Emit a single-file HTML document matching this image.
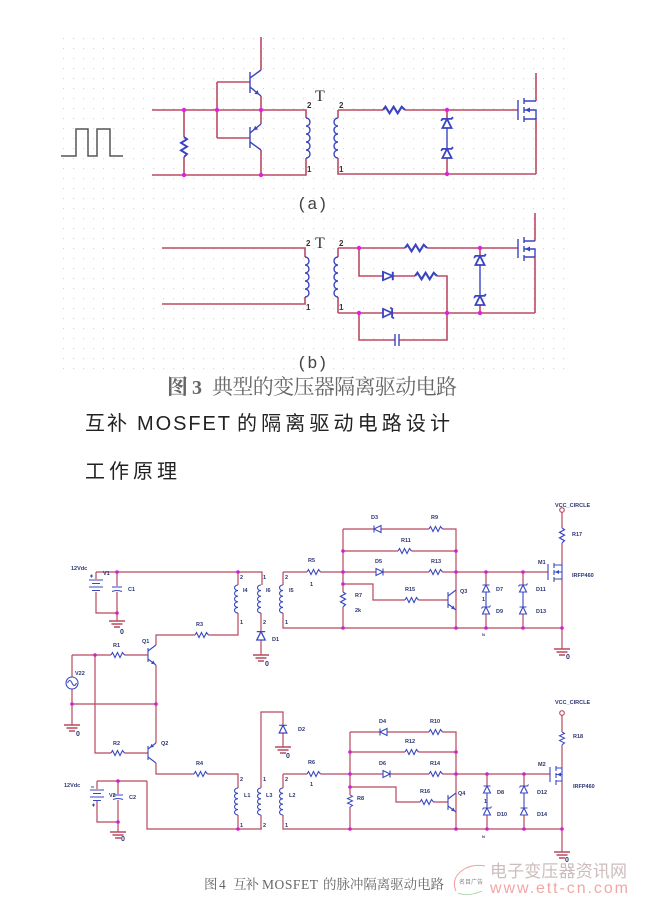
<!DOCTYPE html>
<html><head><meta charset="utf-8"><style>
html,body{margin:0;padding:0;background:#fff;}
svg{display:block}
.w{stroke:#bb4a64;fill:none;stroke-width:1.6}
.b{stroke:#3a44c0;fill:none;stroke-width:1.4}
.w2{stroke:#b8485e;fill:none;stroke-width:1.2}
.b2{stroke:#3a48c0;fill:none;stroke-width:1.1}
.gd{stroke:#b8485e;fill:none;stroke-width:1.5}
.lb{font-family:"Liberation Sans",sans-serif;font-size:5.5px;font-weight:bold;fill:#2a3570}
.pn{font-family:"Liberation Sans",sans-serif;font-size:8px;font-weight:bold;fill:#333}
.jd{fill:#e020e0}
.jd2{fill:#d020d0}
</style></head><body>
<svg width="648" height="916" viewBox="0 0 648 916" xmlns="http://www.w3.org/2000/svg">
<defs>
<pattern id="g" width="10" height="10" patternUnits="userSpaceOnUse" x="63" y="38"><rect x="0" y="0" width="1.2" height="1.2" fill="#d8d8d8"/></pattern>
<path id="rz" d="M0 0 l1.5 -2.5 l2.5 5 l2.5 -5 l2.5 5 l2.5 -5 l2 2.5"/>
<path id="dd" d="M0 -3.5 V3.5 L7 0 Z M7 -3.5 V3.5"/>
<path id="zz" d="M0 -3.5 V3.5 L7 0 Z M5.5 -4.5 L7 -3.5 V3.5 L8.5 4.5"/>
<path id="gnd" d="M-8 0 H8 M-5.5 3 H5.5 M-3 6 H3"/>
</defs>

<rect x="60" y="35" width="512" height="335" fill="url(#g)"/>

<!-- ============ Fig 3 (a) ============ -->
<polyline points="61,156 76,156 76,129 88,129 88,156 97,156 97,129 110,129 110,156 123,156" fill="none" stroke="#555" stroke-width="1.5"/>
<path class="w" d="M152 110 H306 V118 M306 158 V175 H152 M184 110 V137 M184 157 V175 M217 82 V138 M217 82 H250 M217 138 H250 M261 70 V37 M261 96 V124 M261 150 V175"/>
<use href="#rz" class="b" transform="translate(184,137) rotate(90) scale(1.48,1.2)"/>
<path class="b" stroke-width="2.2" d="M250 72 V93 M250 127 V148"/>
<path class="b" d="M250 78 L261 70 M250 87 L261 96 M250 133 L261 124 M250 142 L261 150"/>
<polygon points="259,94.5 254.3,93.9 257.5,90.1" fill="#3a44c0"/>
<polygon points="253.5,130.1 258.2,129.5 255,125.7" fill="#3a44c0"/>
<path class="b" d="M306 118 a4 4 0 0 1 0 8 a4 4 0 0 1 0 8 a4 4 0 0 1 0 8 a4 4 0 0 1 0 8 a4 4 0 0 1 0 8"/>
<path class="b" d="M338 118 a4 4 0 0 0 0 8 a4 4 0 0 0 0 8 a4 4 0 0 0 0 8 a4 4 0 0 0 0 8 a4 4 0 0 0 0 8"/>
<path class="w" d="M338 110 V118 M338 158 V174 H536 M338 110 H383 M405 110 H518 M447 110 V118 M447 158 V174 M536 73 V101 M536 118 V174"/>
<use href="#rz" class="b" transform="translate(383,110) scale(1.63,1.3)"/>
<use href="#zz" class="b" transform="translate(447,128) rotate(-90) scale(1.3)"/>
<path class="b" d="M447 128 V149"/>
<use href="#zz" class="b" transform="translate(447,158) rotate(-90) scale(1.3)"/>
<path class="b" stroke-width="2" d="M518 100 V120 M524 98 V104 M524 107 V113 M524 116 V122"/>
<path class="b" d="M524 101 H536 M524 119 H536 M524 110 H536 V119"/>
<polygon points="525,110 530,107.5 530,112.5" fill="#3a44c0"/>
<circle class="jd" cx="184" cy="110" r="2.2"/><circle class="jd" cx="184" cy="175" r="2.2"/>
<circle class="jd" cx="217" cy="110" r="2.2"/><circle class="jd" cx="261" cy="110" r="2.2"/>
<circle class="jd" cx="261" cy="175" r="2.2"/><circle class="jd" cx="447" cy="110" r="2.2"/>
<circle class="jd" cx="447" cy="174" r="2.2"/>
<text class="pn" x="307" y="108">2</text><text class="pn" x="307" y="172">1</text>
<text class="pn" x="339" y="108">2</text><text class="pn" x="339" y="172">1</text>
<text x="315" y="101" font-family="Liberation Serif,serif" font-size="16" fill="#333">T</text>
<text x="297" y="209" font-family="Liberation Mono,monospace" font-size="17" fill="#444">(a)</text>

<!-- ============ Fig 3 (b) ============ -->
<path class="w" d="M162 248 H305 V257 M305 297 V304 H162 M338 248 V257 M338 297 V313 M338 248 H405 M427 248 H518 M359 248 V276 H383 M393 276 H415 M437 276 H447 V340 H399 M395 340 H359 V313 M338 313 H383 M393 313 H535 M480 248 V255 M480 305 V313 M535 213 V241 M535 257 V313"/>
<path class="b" d="M305 257 a4 4 0 0 1 0 8 a4 4 0 0 1 0 8 a4 4 0 0 1 0 8 a4 4 0 0 1 0 8 a4 4 0 0 1 0 8"/>
<path class="b" d="M338 257 a4 4 0 0 0 0 8 a4 4 0 0 0 0 8 a4 4 0 0 0 0 8 a4 4 0 0 0 0 8 a4 4 0 0 0 0 8"/>
<use href="#rz" class="b" transform="translate(405,248) scale(1.63,1.3)"/>
<use href="#rz" class="b" transform="translate(415,276) scale(1.63,1.3)"/>
<use href="#dd" class="b" transform="translate(383,276) scale(1.4,1.2)"/>
<use href="#zz" class="b" transform="translate(383,313) scale(1.3,1.2)"/>
<path class="b" stroke-width="1.8" d="M395 334 V346 M399 334 V346"/>
<use href="#zz" class="b" transform="translate(480,265) rotate(-90) scale(1.3)"/>
<path class="b" d="M480 265 V296"/>
<use href="#zz" class="b" transform="translate(480,305) rotate(-90) scale(1.3)"/>
<path class="b" stroke-width="2" d="M518 239 V258 M524 237 V243 M524 246 V252 M524 255 V261"/>
<path class="b" d="M524 241 H535 M524 257 H535 M524 249 H535 V257"/>
<polygon points="525,249 530,246.5 530,251.5" fill="#3a44c0"/>
<circle class="jd" cx="359" cy="248" r="2.2"/><circle class="jd" cx="480" cy="248" r="2.2"/>
<circle class="jd" cx="359" cy="313" r="2.2"/><circle class="jd" cx="447" cy="313" r="2.2"/>
<circle class="jd" cx="480" cy="313" r="2.2"/>
<text class="pn" x="306" y="246">2</text><text class="pn" x="306" y="310">1</text>
<text class="pn" x="339" y="246">2</text><text class="pn" x="339" y="310">1</text>
<text x="315" y="248" font-family="Liberation Serif,serif" font-size="16" fill="#333">T</text>
<text x="297" y="368" font-family="Liberation Mono,monospace" font-size="17" fill="#444">(b)</text>

<!-- captions / headings -->
<text x="167" y="394" font-family="Liberation Serif,'Noto Serif CJK SC',serif" font-size="21" fill="#666" font-weight="bold">图</text>
<text x="192" y="394" font-family="Liberation Serif,'Noto Serif CJK SC',serif" font-size="20" fill="#666" font-weight="bold">3</text>
<text x="212" y="394" font-family="'Noto Serif CJK SC',serif" font-size="21" fill="#666" textLength="245" lengthAdjust="spacing">典型的变压器隔离驱动电路</text>

<text x="85" y="430" font-family="'Liberation Sans','Noto Sans CJK SC',sans-serif" font-size="20" fill="#222" textLength="42" lengthAdjust="spacing">互补</text>
<text x="137" y="430" font-family="'Liberation Sans',sans-serif" font-size="20" fill="#222" textLength="93" lengthAdjust="spacing">MOSFET</text>
<text x="237" y="430" font-family="'Liberation Sans','Noto Sans CJK SC',sans-serif" font-size="20" fill="#222" textLength="213" lengthAdjust="spacing">的隔离驱动电路设计</text>
<text x="85" y="478" font-family="'Liberation Sans','Noto Sans CJK SC',sans-serif" font-size="20" fill="#222" textLength="92" lengthAdjust="spacing">工作原理</text>

<!-- ============ Fig 4 top ============ -->
<path class="w2" d="M96 572 H262 V585 M96 572 V579 M96 592 V613 H117 M117 572 V586 M117 592 V621 M238 572 V585 M238 613 V635 H208.5 M195 635 H156 V645 M261 613 V631 M261 640 V655 M283 572 V585 M283 613 V628 H562 M283 572 H307 M320.5 572 H376 M383 572 H429 M442.5 572 H548 M343 529 V592 M343 607 V628 M343 529 H374 M381 529 H429 M442.5 529 H456 V628 M343 551 H398 M411.5 551 H456 M343 584 H373 V600 H405 M418.5 600 H448 M486 572 V585 M486 614 V628 M523 572 V585 M523 614 V628 M562 512.5 V528 M562 543 V564 M562 580 V649"/>
<path class="b2" stroke-width="1.4" d="M89 580 H103 M92 583.5 H100 M89 587 H103 M92 590.5 H100"/>
<path class="b2" d="M90 576 H93 M91.5 574.5 V577.5"/>
<path class="b2" stroke-width="1.4" d="M112 587 H122 M112 591.5 Q117 589.5 122 591.5"/>
<path class="b2" d="M238 585 a3.5 2.8 0 0 0 0 5.6 a3.5 2.8 0 0 0 0 5.6 a3.5 2.8 0 0 0 0 5.6 a3.5 2.8 0 0 0 0 5.6 a3.5 2.8 0 0 0 0 5.6"/>
<path class="b2" d="M261 585 a3.5 2.8 0 0 0 0 5.6 a3.5 2.8 0 0 0 0 5.6 a3.5 2.8 0 0 0 0 5.6 a3.5 2.8 0 0 0 0 5.6 a3.5 2.8 0 0 0 0 5.6"/>
<path class="b2" d="M283 585 a3.5 2.8 0 0 0 0 5.6 a3.5 2.8 0 0 0 0 5.6 a3.5 2.8 0 0 0 0 5.6 a3.5 2.8 0 0 0 0 5.6 a3.5 2.8 0 0 0 0 5.6"/>
<use href="#dd" class="b2" transform="translate(261,640) rotate(-90) scale(1.2)"/>
<use href="#gnd" class="gd" transform="translate(117,621)"/>
<use href="#gnd" class="gd" transform="translate(261,655)"/>
<use href="#gnd" class="gd" transform="translate(562,649)"/>
<use href="#rz" class="b2" transform="translate(195,635)"/>
<use href="#rz" class="b2" transform="translate(307,572)"/>
<use href="#rz" class="b2" transform="translate(429,529)"/>
<use href="#rz" class="b2" transform="translate(398,551)"/>
<use href="#rz" class="b2" transform="translate(429,572)"/>
<use href="#rz" class="b2" transform="translate(405,600)"/>
<use href="#rz" class="b2" transform="translate(343,592) rotate(90) scale(1.1,1)"/>
<use href="#rz" class="b2" transform="translate(562,528) rotate(90) scale(1.1,1)"/>
<use href="#dd" class="b2" transform="translate(381,529) scale(-1,1)"/>
<use href="#dd" class="b2" transform="translate(376,572)"/>
<use href="#dd" class="b2" transform="translate(486,592) rotate(-90)"/>
<path class="b2" d="M486 592 V607 M523 592 V607"/>
<use href="#zz" class="b2" transform="translate(486,614) rotate(-90)"/>
<use href="#zz" class="b2" transform="translate(523,592) rotate(-90)"/>
<use href="#dd" class="b2" transform="translate(523,614) rotate(-90)"/>
<!-- Q3 -->
<path class="b2" stroke-width="1.8" d="M448 592 V608"/>
<path class="b2" d="M448 596 L456 590 M448 604 L456 610"/>
<polygon points="455,609.2 451,608.7 453.4,605.5" fill="#3a48c0"/>
<!-- M1 -->
<path class="b2" stroke-width="1.6" d="M548 564 V580 M554 563 V568 M554 570 V575 M554 577 V582"/>
<path class="b2" d="M554 565 H562 M554 579 H562 M554 572 H562 V579 M562 564 V580"/>
<polygon points="555,572 559,570 559,574" fill="#3a48c0"/>
<circle cx="562" cy="510" r="2.3" fill="none" stroke="#b8485e" stroke-width="1.1"/>
<!-- Q1 -->
<path class="b2" stroke-width="1.8" d="M148 648 V662"/>
<path class="b2" d="M148 651 L156 645 M148 659 L156 665"/>
<polygon points="155,664.2 151,663.7 153.4,660.5" fill="#3a48c0"/>

<!-- ============ Fig 4 middle / bottom ============ -->
<path class="w2" d="M72 655 H111 M124.5 655 H148 M72 655 V677 M72 689 V725 M72 704 H156 M156 665 V743 M95 655 V753 H111 M124.5 753 H148 M156 763 V774 H194 M207.5 774 H238 V788 M238 815 V829 M261 788 V712 H283 V725 M283 733 V747 M261 815 V829 M147 781 V829 H262 M97 781 H147 M97 781 V789 M97 801 V822 H118 M118 781 V794 M118 800 V832 M283 774 V788 M283 815 V829 H562 M283 774 H307 M320.5 774 H383 M390 774 H429 M442.5 774 H550 M350 732 V795 M350 807 V829 M350 732 H380 M387 732 H429 M442.5 732 H456 V829 M350 752 H405 M418.5 752 H456 M350 787 H396 V802 H420 M433.5 802 H448 M487 774 V786 M487 815 V829 M524 774 V786 M524 815 V829 M562 715.5 V732 M562 745 V767 M562 782 V852"/>
<circle cx="72" cy="683" r="6" fill="none" stroke="#3a48c0" stroke-width="1.1"/>
<path class="b2" d="M67.5 683 q2.25 -5 4.5 0 t4.5 0"/>
<use href="#gnd" class="gd" transform="translate(72,725)"/>
<use href="#rz" class="b2" transform="translate(111,655)"/>
<use href="#rz" class="b2" transform="translate(111,753)"/>
<use href="#rz" class="b2" transform="translate(194,774)"/>
<!-- Q2 -->
<path class="b2" stroke-width="1.8" d="M148 746 V760"/>
<path class="b2" d="M148 749 L156 743 M148 757 L156 763"/>
<polygon points="150,747.5 154,747 151.6,743.8" fill="#3a48c0"/>
<use href="#dd" class="b2" transform="translate(283,733) rotate(-90) scale(1.1)"/>
<use href="#gnd" class="gd" transform="translate(283,747)"/>
<path class="b2" stroke-width="1.4" d="M90 790 H104 M93 793.5 H101 M90 797 H104 M93 800.5 H101"/>
<path class="b2" d="M92 805 H95 M93.5 803.5 V806.5 M91 787 H94"/>
<path class="b2" stroke-width="1.4" d="M113 795 H123 M113 799.5 Q118 797.5 123 799.5"/>
<use href="#gnd" class="gd" transform="translate(118,832)"/>
<path class="b2" d="M238 788 a3.5 2.7 0 0 0 0 5.4 a3.5 2.7 0 0 0 0 5.4 a3.5 2.7 0 0 0 0 5.4 a3.5 2.7 0 0 0 0 5.4 a3.5 2.7 0 0 0 0 5.4"/>
<path class="b2" d="M261 788 a3.5 2.7 0 0 0 0 5.4 a3.5 2.7 0 0 0 0 5.4 a3.5 2.7 0 0 0 0 5.4 a3.5 2.7 0 0 0 0 5.4 a3.5 2.7 0 0 0 0 5.4"/>
<path class="b2" d="M283 788 a3.5 2.7 0 0 0 0 5.4 a3.5 2.7 0 0 0 0 5.4 a3.5 2.7 0 0 0 0 5.4 a3.5 2.7 0 0 0 0 5.4 a3.5 2.7 0 0 0 0 5.4"/>
<use href="#rz" class="b2" transform="translate(307,774)"/>
<use href="#rz" class="b2" transform="translate(429,732)"/>
<use href="#rz" class="b2" transform="translate(405,752)"/>
<use href="#rz" class="b2" transform="translate(429,774)"/>
<use href="#rz" class="b2" transform="translate(420,802)"/>
<use href="#rz" class="b2" transform="translate(350,795) rotate(90) scale(0.9,1)"/>
<use href="#rz" class="b2" transform="translate(562,732) rotate(90) scale(0.95,1)"/>
<use href="#dd" class="b2" transform="translate(387,732) scale(-1,1)"/>
<use href="#dd" class="b2" transform="translate(383,774)"/>
<use href="#dd" class="b2" transform="translate(487,793) rotate(-90)"/>
<path class="b2" d="M487 793 V808 M524 793 V808"/>
<use href="#zz" class="b2" transform="translate(487,815) rotate(-90)"/>
<use href="#zz" class="b2" transform="translate(524,793) rotate(-90)"/>
<use href="#dd" class="b2" transform="translate(524,815) rotate(-90)"/>
<!-- Q4 -->
<path class="b2" stroke-width="1.8" d="M448 795 V810"/>
<path class="b2" d="M448 799 L456 793 M448 806 L456 812"/>
<polygon points="455,811.2 451,810.7 453.4,807.5" fill="#3a48c0"/>
<!-- M2 -->
<path class="b2" stroke-width="1.6" d="M550 767 V782 M556 766 V771 M556 773 V778 M556 780 V785"/>
<path class="b2" d="M556 768 H562 M556 781 H562 M556 774.5 H562 V781 M562 767 V782"/>
<polygon points="557,774.5 561,772.5 561,776.5" fill="#3a48c0"/>
<circle cx="562" cy="713" r="2.3" fill="none" stroke="#b8485e" stroke-width="1.1"/>
<use href="#gnd" class="gd" transform="translate(562,852)"/>

<!-- junctions fig4 -->
<g class="jd2">
<circle cx="117" cy="572" r="1.8"/><circle cx="117" cy="613" r="1.8"/><circle cx="238" cy="572" r="1.8"/>
<circle cx="343" cy="551" r="1.8"/><circle cx="343" cy="572" r="1.8"/><circle cx="343" cy="584" r="1.8"/><circle cx="343" cy="628" r="1.8"/>
<circle cx="456" cy="551" r="1.8"/><circle cx="456" cy="572" r="1.8"/><circle cx="456" cy="628" r="1.8"/>
<circle cx="486" cy="572" r="1.8"/><circle cx="523" cy="572" r="1.8"/><circle cx="486" cy="628" r="1.8"/><circle cx="523" cy="628" r="1.8"/><circle cx="562" cy="628" r="1.8"/>
<circle cx="95" cy="655" r="1.8"/><circle cx="72" cy="704" r="1.8"/><circle cx="156" cy="704" r="1.8"/>
<circle cx="118" cy="781" r="1.8"/><circle cx="118" cy="822" r="1.8"/><circle cx="238" cy="829" r="1.8"/>
<circle cx="350" cy="752" r="1.8"/><circle cx="350" cy="774" r="1.8"/><circle cx="350" cy="787" r="1.8"/><circle cx="350" cy="829" r="1.8"/>
<circle cx="456" cy="752" r="1.8"/><circle cx="456" cy="774" r="1.8"/><circle cx="456" cy="829" r="1.8"/>
<circle cx="487" cy="774" r="1.8"/><circle cx="524" cy="774" r="1.8"/><circle cx="487" cy="829" r="1.8"/><circle cx="524" cy="829" r="1.8"/><circle cx="562" cy="829" r="1.8"/>
</g>

<!-- labels fig4 -->
<g class="lb">
<text x="71" y="570">12Vdc</text><text x="103" y="575">V1</text><text x="128" y="591">C1</text><text x="120" y="634" font-size="7">0</text>
<text x="240" y="579">2</text><text x="243" y="592">I4</text><text x="240" y="624">1</text>
<text x="263" y="579">1</text><text x="266" y="592">I6</text><text x="263" y="624">2</text>
<text x="285" y="579">2</text><text x="289" y="592">I5</text><text x="285" y="624">1</text>
<text x="272" y="641">D1</text><text x="265" y="666" font-size="7">0</text>
<text x="196" y="626">R3</text><text x="142" y="643">Q1</text><text x="113" y="647">R1</text>
<text x="308" y="562">R5</text><text x="310" y="586">1</text>
<text x="371" y="519">D3</text><text x="431" y="519">R9</text><text x="401" y="542">R11</text>
<text x="375" y="563">D5</text><text x="431" y="563">R13</text>
<text x="355" y="597">R7</text><text x="355" y="612">2k</text><text x="405" y="591">R15</text><text x="460" y="593">Q3</text>
<text x="496" y="591">D7</text><text x="496" y="613">D9</text><text x="536" y="591">D11</text><text x="536" y="613">D13</text>
<text x="482" y="601">1</text><text x="482" y="636" font-size="4">N</text>
<text x="538" y="564">M1</text><text x="572" y="577">IRFP460</text><text x="572" y="536">R17</text>
<text x="555" y="507">VCC_CIRCLE</text><text x="566" y="659" font-size="7">0</text>
<text x="75" y="675">V22</text><text x="76" y="736" font-size="7">0</text>
<text x="113" y="745">R2</text><text x="161" y="745">Q2</text><text x="196" y="765">R4</text>
<text x="298" y="731">D2</text><text x="286" y="758" font-size="7">0</text>
<text x="64" y="787">12Vdc</text><text x="109" y="797">V2</text><text x="129" y="799">C2</text><text x="121" y="841" font-size="7">0</text>
<text x="240" y="781">2</text><text x="244" y="797">L1</text><text x="240" y="827">1</text>
<text x="263" y="781">1</text><text x="266" y="797">L3</text><text x="263" y="827">2</text>
<text x="285" y="781">2</text><text x="289" y="797">L2</text><text x="285" y="827">1</text>
<text x="308" y="764">R6</text><text x="310" y="786">1</text>
<text x="379" y="723">D4</text><text x="430" y="723">R10</text><text x="405" y="743">R12</text>
<text x="379" y="765">D6</text><text x="430" y="765">R14</text><text x="420" y="793">R16</text>
<text x="357" y="800">R8</text><text x="458" y="795">Q4</text>
<text x="497" y="794">D8</text><text x="497" y="816">D10</text><text x="537" y="794">D12</text><text x="537" y="816">D14</text>
<text x="484" y="803">1</text><text x="482" y="838" font-size="4">N</text>
<text x="538" y="766">M2</text><text x="573" y="788">IRFP460</text><text x="573" y="738">R18</text>
<text x="555" y="704">VCC_CIRCLE</text><text x="565" y="862" font-size="7">0</text>
</g>

<!-- Fig 4 caption -->
<text x="204" y="889" font-family="Liberation Serif,'Noto Serif CJK SC',serif" font-size="13.5" fill="#666">图</text>
<text x="219" y="889" font-family="Liberation Serif,serif" font-size="13.5" fill="#666">4</text>
<text x="233" y="889" font-family="'Noto Serif CJK SC',serif" font-size="13.5" fill="#666" textLength="26" lengthAdjust="spacing">互补</text>
<text x="262" y="889" font-family="Liberation Serif,serif" font-size="13.5" fill="#666" textLength="56" lengthAdjust="spacing">MOSFET</text>
<text x="323" y="889" font-family="'Noto Serif CJK SC',serif" font-size="13.5" fill="#666" textLength="121" lengthAdjust="spacing">的脉冲隔离驱动电路</text>

<!-- watermark -->
<path d="M456 891 q-6 -14 10 -23 q9 -4 19 -2" fill="none" stroke="#f0a0a0" stroke-width="1"/>
<path d="M458 893 q10 4 24 -2" fill="none" stroke="#9fd09f" stroke-width="0.8"/>
<text x="459" y="884" font-family="'Noto Sans CJK SC',sans-serif" font-size="6" fill="#888">名目广告</text>
<text x="490" y="877" font-family="'Liberation Sans','Noto Sans CJK SC',sans-serif" font-size="17" fill="#cdbcbc" textLength="137" lengthAdjust="spacing">电子变压器资讯网</text>
<text x="490" y="893" font-family="'Liberation Sans',sans-serif" font-size="16" fill="#f2a6a6" textLength="138" lengthAdjust="spacing">www.ett-cn.com</text>
</svg>
</body></html>
